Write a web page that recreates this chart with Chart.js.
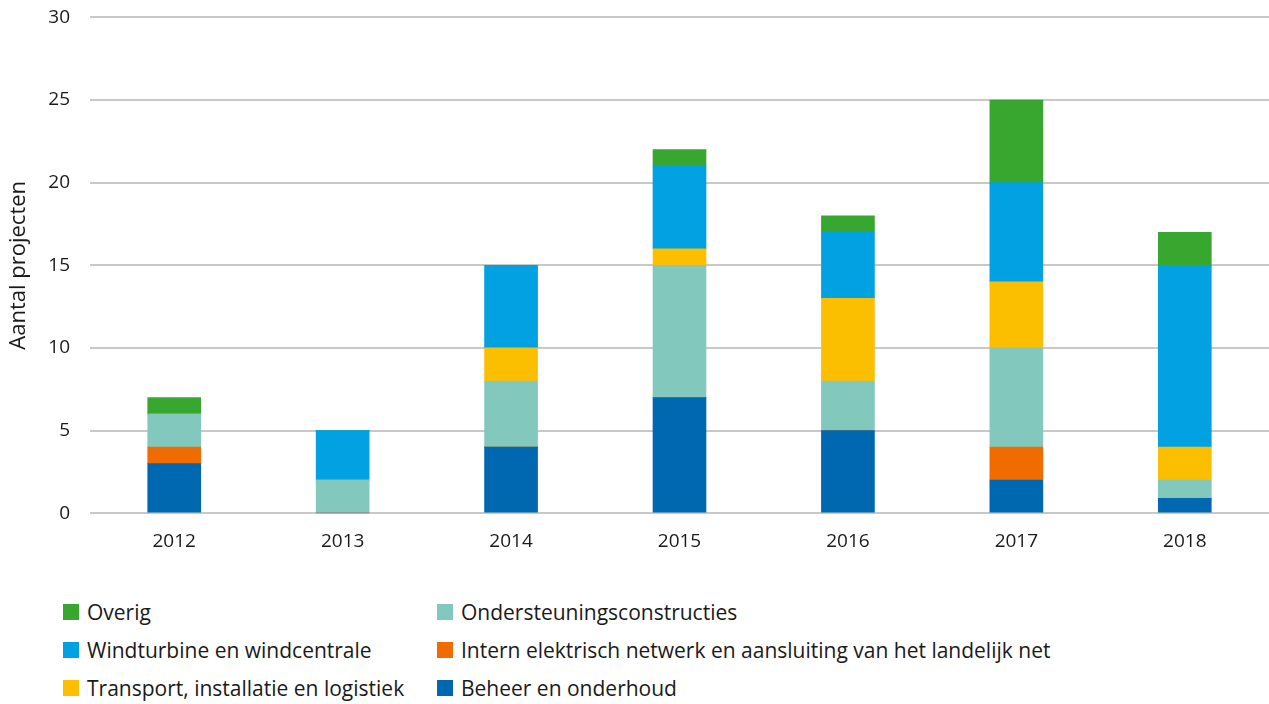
<!DOCTYPE html>
<html>
<head>
<meta charset="utf-8">
<script src="https://cdn.jsdelivr.net/npm/chart.js@4"></script>
<style>
  body { margin: 0; background: #fff; font-family: 'Open Sans', sans-serif; overflow: hidden; }
  #wrap { position: absolute; left: 0; top: -14px; width: 1269px; height: 594px; }
  #legend { position: absolute; left: 63px; top: 599px; width: 1150px; display: grid;
    grid-template-columns: 374px auto; row-gap: 13px; color: #1a1a1a; font-size: 21px; }
  .item { display: flex; align-items: center; height: 25px; white-space: nowrap; }
  .box { width: 16px; height: 16px; margin-right: 8px; flex: none; }
</style>
</head>
<body>
<div id="wrap"><canvas id="c"></canvas></div>
<div id="legend"></div>
<script>
const years = ['2012', '2013', '2014', '2015', '2016', '2017', '2018'];

const beheer = [3, 0, 4, 7, 5, 2, 0.9];
const intern = [1, 0, 0, 0, 0, 2, 0];
const ondersteuning = [2, 2, 4, 8, 3, 6, 1.1];
const transport = [0, 0, 2, 1, 5, 4, 2];
const windturbine = [0, 3, 5, 5, 4, 6, 11];
const overig = [1, 0, 0, 1, 1, 5, 2];

const yTicks = [0, 5, 10, 15, 20, 25, 30];

const series = [
  { label: 'Beheer en onderhoud', data: beheer, color: '#0067b1' },
  { label: 'Intern elektrisch netwerk en aansluiting van het landelijk net', data: intern, color: '#f06c00' },
  { label: 'Ondersteuningsconstructies', data: ondersteuning, color: '#82c8bc' },
  { label: 'Transport, installatie en logistiek', data: transport, color: '#fbbf00' },
  { label: 'Windturbine en windcentrale', data: windturbine, color: '#01a1e2' },
  { label: 'Overig', data: overig, color: '#37a72f' },
];

// legend order as in the picture, row by row, two columns
const legendOrder = ['Overig', 'Ondersteuningsconstructies', 'Windturbine en windcentrale',
  'Intern elektrisch netwerk en aansluiting van het landelijk net',
  'Transport, installatie en logistiek', 'Beheer en onderhoud'];

const font = { family: "'Open Sans', sans-serif", size: 19 };

new Chart(document.getElementById('c'), {
  type: 'bar',
  data: {
    labels: years,
    datasets: series.map(s => ({
      label: s.label,
      data: s.data,
      backgroundColor: s.color,
      borderWidth: 0,
      barThickness: 53,
    })),
  },
  options: {
    responsive: true,
    maintainAspectRatio: false,
    animation: false,
    layout: { padding: { top: 7, bottom: 10, right: 0, left: 0 } },
    plugins: { legend: { display: false }, tooltip: { enabled: false } },
    scales: {
      x: {
        stacked: true,
        grid: { display: false, drawTicks: false },
        border: { display: false },
        ticks: { color: '#1a1a1a', font, padding: 17 },
      },
      y: {
        stacked: true,
        min: 0,
        max: 30,
        afterBuildTicks: axis => { axis.ticks = yTicks.map(v => ({ value: v })); },
        afterFit: axis => { axis.width = 90; },
        grid: { color: '#c8c8c8', lineWidth: 2, drawTicks: false },
        border: { display: false },
        ticks: { color: '#1a1a1a', font, padding: 20 },
        title: { display: true, text: 'Aantal projecten', color: '#1a1a1a', font: { family: font.family, size: 22 }, padding: { top: 6, bottom: 0 } },
      },
    },
  },
});

const legend = document.getElementById('legend');
legendOrder.forEach(name => {
  const s = series.find(d => d.label === name);
  const el = document.createElement('div');
  el.className = 'item';
  el.innerHTML = `<span class="box" style="background:${s.color}"></span><span>${s.label}</span>`;
  legend.appendChild(el);
});
</script>
</body>
</html>
